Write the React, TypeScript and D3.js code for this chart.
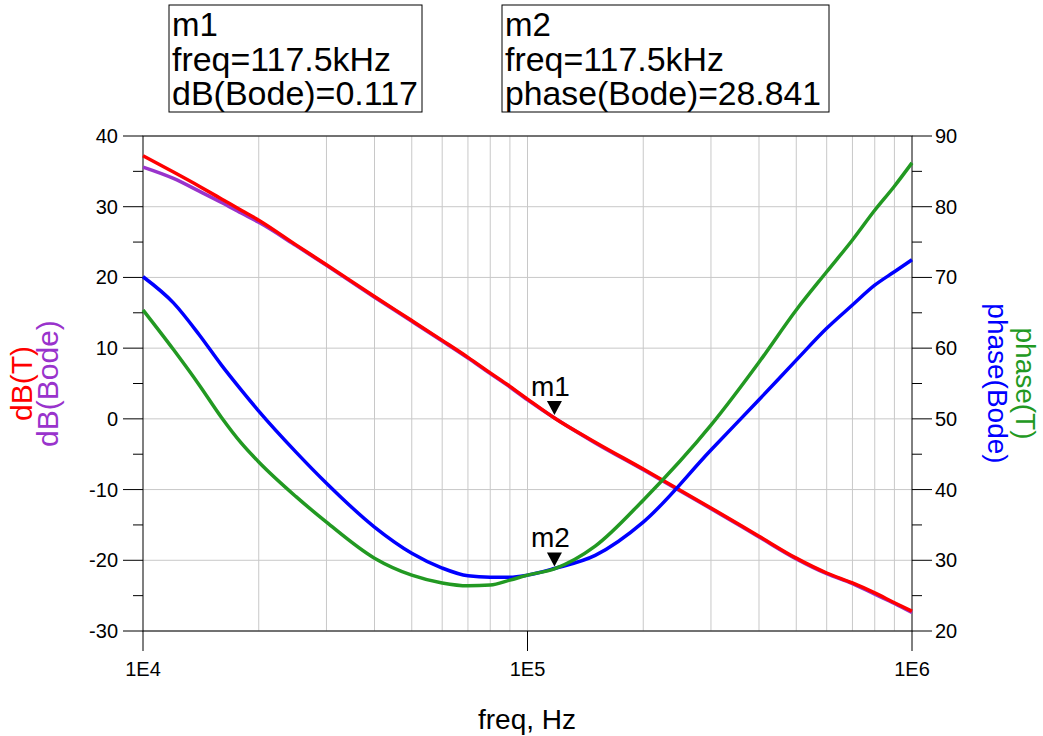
import React from 'react';
import * as d3 from 'd3';

// frequencies (Hz) at which the traces were read
const freqs = [1e4, 1.2e4, 1.4e4, 1.6e4, 1.8e4, 2e4, 2.5e4, 3e4, 4e4, 5e4, 6e4, 7e4, 8e4, 9e4, 1e5, 1.175e5, 1.5e5, 2e5, 3e5, 4e5, 5e5, 6e5, 7e5, 8e5, 9e5, 1e6];
const dbT = [37.2, 34.9, 32.9, 31.1, 29.5, 28.1, 24.6, 21.8, 17.3, 13.9, 11.1, 8.7, 6.5, 4.6, 2.8, 0.12, -3.3, -7.1, -12.6, -16.6, -19.7, -21.8, -23.2, -24.6, -26.0, -27.2];
const dbBode = [35.6, 34.0, 32.2, 30.6, 29.1, 27.8, 24.5, 21.7, 17.2, 13.8, 11.0, 8.6, 6.4, 4.5, 2.7, 0.117, -3.4, -7.2, -12.7, -16.7, -19.8, -21.9, -23.3, -24.8, -26.1, -27.4];
const phaseT = [65.4, 59.8, 54.8, 50.2, 46.6, 43.9, 39.0, 35.4, 30.3, 27.9, 26.8, 26.4, 26.5, 27.2, 27.9, 28.8, 32.0, 38.5, 49.1, 58.0, 65.4, 70.8, 75.3, 79.5, 82.9, 86.2];
const phaseBode = [70.1, 66.4, 61.9, 57.6, 54.1, 51.1, 45.3, 40.9, 34.7, 31.0, 28.9, 27.8, 27.6, 27.6, 27.9, 28.841, 30.7, 35.4, 45.6, 52.7, 58.3, 62.8, 66.1, 68.9, 70.8, 72.5];

const leftTicks = [40, 30, 20, 10, 0, -10, -20, -30];
const rightTicks = [90, 80, 70, 60, 50, 40, 30, 20];
const xTicks = [1e4, 1e5, 1e6];
const xTickLabels = ['1E4', '1E5', '1E6'];

const markerFreq = 117.5e3;
const m1Lines = ['m1', 'freq=117.5kHz', 'dB(Bode)=0.117'];
const m2Lines = ['m2', 'freq=117.5kHz', 'phase(Bode)=28.841'];

const font = 'Liberation Sans, Arial, sans-serif';

const App = () => {
  const left = 143, right = 912, top = 136, bottom = 631;
  const x = d3.scaleLog().domain([1e4, 1e6]).range([left, right]);
  const yL = d3.scaleLinear().domain([-30, 40]).range([bottom, top]);
  const yR = d3.scaleLinear().domain([20, 90]).range([bottom, top]);

  const minorX: number[] = [];
  [1e4, 1e5].forEach((dec) => {
    for (let k = 2; k <= 9; k++) minorX.push(dec * k);
  });
  minorX.push(1e5);

  const lineL = (vals: number[]) =>
    d3.line<number>().x((_, i) => x(freqs[i])).y((v) => yL(v)).curve(d3.curveMonotoneX)(vals) || '';
  const lineR = (vals: number[]) =>
    d3.line<number>().x((_, i) => x(freqs[i])).y((v) => yR(v)).curve(d3.curveMonotoneX)(vals) || '';

  const mx = x(markerFreq);
  const m1y = yL(dbBode[freqs.indexOf(markerFreq)]) - 3;
  const m2y = yR(phaseBode[freqs.indexOf(markerFreq)]) - 2;
  const tri = (tx: number, ty: number) => `M${tx - 7.5},${ty - 14}L${tx + 7.5},${ty - 14}L${tx},${ty}Z`;

  const box = (bx: number, bw: number, lines: string[], lens: number[]) => (
    <g>
      <rect x={bx} y={5} width={bw} height={107} fill='white' stroke='black' strokeWidth={1} />
      {lines.map((t, i) => (
        <text key={i} x={bx + 3} y={36 + i * 34.5} fontFamily={font} fontSize={33} fill='black'
          textLength={lens[i] || undefined} lengthAdjust='spacingAndGlyphs'>
          {t}
        </text>
      ))}
    </g>
  );

  const midY = (top + bottom) / 2;

  return (
    <svg width={1043} height={736} style={{ position: 'absolute', left: 0, top: 0, background: 'white' }}>
      {/* grid */}
      {minorX.map((f) => (
        <line key={'gx' + f} x1={x(f)} x2={x(f)} y1={top} y2={bottom} stroke='#c8c8c8' strokeWidth={1} />
      ))}
      {leftTicks.map((v) => (
        <line key={'gy' + v} x1={left} x2={right} y1={yL(v)} y2={yL(v)} stroke='#c8c8c8' strokeWidth={1} />
      ))}
      {/* frame */}
      <rect x={left} y={top} width={right - left} height={bottom - top} fill='none' stroke='black' strokeWidth={1} />
      {/* left axis */}
      {leftTicks.map((v) => (
        <g key={'lt' + v}>
          <line x1={left - 20} x2={left} y1={yL(v)} y2={yL(v)} stroke='black' />
          <text x={118} y={yL(v)} dy='0.35em' textAnchor='end' fontFamily={font} fontSize={20}>{v}</text>
        </g>
      ))}
      {leftTicks.slice(1).map((v) => (
        <line key={'lm' + v} x1={left - 10} x2={left} y1={yL(v + 5)} y2={yL(v + 5)} stroke='black' />
      ))}
      {/* right axis */}
      {rightTicks.map((v) => (
        <g key={'rt' + v}>
          <line x1={right} x2={right + 20} y1={yR(v)} y2={yR(v)} stroke='black' />
          <text x={935} y={yR(v)} dy='0.35em' textAnchor='start' fontFamily={font} fontSize={20}>{v}</text>
        </g>
      ))}
      {rightTicks.slice(1).map((v) => (
        <line key={'rm' + v} x1={right} x2={right + 10} y1={yR(v + 5)} y2={yR(v + 5)} stroke='black' />
      ))}
      {/* x axis */}
      {xTicks.map((f, i) => (
        <g key={'xt' + f}>
          <line x1={x(f)} x2={x(f)} y1={bottom} y2={bottom + 20} stroke='black' />
          <text x={x(f)} y={676} textAnchor='middle' fontFamily={font} fontSize={20}>{xTickLabels[i]}</text>
        </g>
      ))}
      <text x={527} y={729} textAnchor='middle' fontFamily={font} fontSize={28}>freq, Hz</text>

      {/* axis titles */}
      <text transform={`translate(32,${midY}) rotate(-90)`} textAnchor='middle' fontFamily={font} fontSize={30} fill='#ff0000'>dB(T)</text>
      <text transform={`translate(58,${midY}) rotate(-90)`} textAnchor='middle' fontFamily={font} fontSize={30} fill='#9933cc'>dB(Bode)</text>
      <text transform={`translate(1016,${midY}) rotate(90)`} textAnchor='middle' fontFamily={font} fontSize={28} fill='#229922'>phase(T)</text>
      <text transform={`translate(988,${midY}) rotate(90)`} textAnchor='middle' fontFamily={font} fontSize={28} fill='#0000ff'>phase(Bode)</text>

      {/* traces */}
      <path d={lineL(dbBode)} fill='none' stroke='#9933cc' strokeWidth={3.5} />
      <path d={lineL(dbT)} fill='none' stroke='#ff0000' strokeWidth={3.5} />
      <path d={lineR(phaseBode)} fill='none' stroke='#0000ff' strokeWidth={3.5} />
      <path d={lineR(phaseT)} fill='none' stroke='#229922' strokeWidth={3.5} />

      {/* markers */}
      <path d={tri(mx, m1y)} fill='black' />
      <text x={mx - 4} y={m1y - 19} textAnchor='middle' fontFamily={font} fontSize={28}>m1</text>
      <path d={tri(mx, m2y)} fill='black' />
      <text x={mx - 4} y={m2y - 19} textAnchor='middle' fontFamily={font} fontSize={28}>m2</text>

      {box(169, 253, m1Lines, [0, 219, 246])}
      {box(502, 327, m2Lines, [0, 219, 316])}
    </svg>
  );
};

export default App;
